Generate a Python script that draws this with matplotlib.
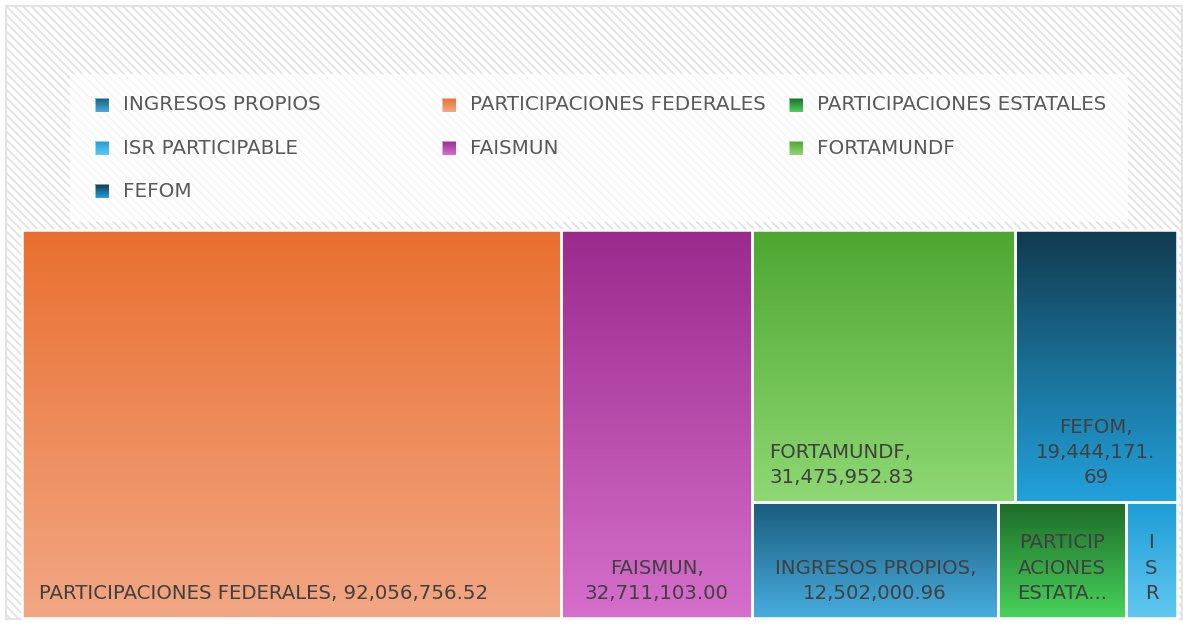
import numpy as np
import matplotlib
matplotlib.use("Agg")
import matplotlib.pyplot as plt
from matplotlib.patches import Rectangle
from matplotlib.colors import LinearSegmentedColormap

# data (legend order)
categories = ["INGRESOS PROPIOS", "PARTICIPACIONES FEDERALES", "PARTICIPACIONES ESTATALES",
              "ISR PARTICIPABLE", "FAISMUN", "FORTAMUNDF", "FEFOM"]
values = [12502000.96, 92056756.52, 6505000.00, 2600000.00, 32711103.00, 31475952.83, 19444171.69]

# labels shown inside the cells (wrapped like the original)
cell_labels = [
    "INGRESOS PROPIOS,\n12,502,000.96",
    "PARTICIPACIONES FEDERALES, 92,056,756.52",
    "PARTICIP\nACIONES\nESTATA...",
    "I\nS\nR",
    "FAISMUN,\n32,711,103.00",
    "FORTAMUNDF,\n31,475,952.83",
    "FEFOM,\n19,444,171.\n69",
]
label_align = ["center", "left", "center", "center", "center", "left", "center"]

# gradient colours (top, bottom)
top_colors = ["#1A5C7D", "#E96F2F", "#1D6B28", "#1C9CD6", "#9B2A8D", "#4DA630", "#113A4E"]
bottom_colors = ["#48ADDE", "#F2A784", "#48D35B", "#62C8F1", "#D56FCB", "#8ED873", "#22A2DC"]

# treemap nesting: columns, then rows inside the last column
layout_tree = [1, 4, [[5, 6], [0, 2, 3]]]

W, H, DPI = 1183, 627, 100
fig = plt.figure(figsize=(W / DPI, H / DPI), dpi=DPI)
plt.rcParams['hatch.linewidth'] = 1.4

def fx(x):
    return x / W

def fy(y):
    return 1 - y / H

# hatched chart background with light border
fig.add_artist(Rectangle((fx(6), fy(619)), fx(1182) - fx(6), fy(6) - fy(619),
                         transform=fig.transFigure, facecolor='white',
                         edgecolor='#E3E3E3', hatch='\\\\\\\\', linewidth=1.5, zorder=-2))
# lighter legend panel
fig.add_artist(Rectangle((fx(70), fy(222)), fx(1128) - fx(70), fy(74) - fy(222),
                         transform=fig.transFigure, facecolor='white', alpha=0.7,
                         edgecolor='none', zorder=-1))

grad = np.linspace(0, 1, 256).reshape(-1, 1)

def grad_fill(ax, x0, y0, w, h, c_top, c_bot, z=1):
    cmap = LinearSegmentedColormap.from_list('g', [c_top, c_bot])
    ax.imshow(grad, cmap=cmap, extent=(x0, x0 + w, y0 + h, y0), origin='upper',
              aspect='auto', interpolation='bilinear', zorder=z)

# legend
lax = fig.add_axes([fx(70), fy(222), fx(1128) - fx(70), fy(74) - fy(222)])
for i, name in enumerate(categories):
    col, row = i % 3, i // 3
    x = 95 + col * 347
    y = 105 + row * 43
    grad_fill(lax, x, y - 7, 14, 14, top_colors[i], bottom_colors[i])
    lax.add_patch(Rectangle((x, y - 7), 14, 14, fill=False, edgecolor='#FFFFFF',
                            linewidth=0.6, alpha=0.6, zorder=2))
    lax.text(x + 28, y, name, va='center', ha='left', fontsize=14.3,
             color='#595959')
lax.set_xlim(70, 1128)
lax.set_ylim(222, 74)
lax.axis('off')

# treemap
ax = fig.add_axes([fx(22), fy(618), fx(1177) - fx(22), fy(230) - fy(618)])

def node_value(node):
    if isinstance(node, list):
        return sum(node_value(n) for n in node)
    return values[node]

rects = {}

def split(node, x, y, w, h, horizontal):
    total = node_value(node)
    for child in node:
        frac = node_value(child) / total
        if horizontal:
            cw, ch = w * frac, h
        else:
            cw, ch = w, h * frac
        if isinstance(child, list):
            split(child, x, y, cw, ch, not horizontal)
        else:
            rects[child] = (x, y, cw, ch)
        if horizontal:
            x += cw
        else:
            y += ch

split(layout_tree, 0, 0, 1, 1, True)

for i, (x0, y0, w, h) in rects.items():
    grad_fill(ax, x0, y0, w, h, top_colors[i], bottom_colors[i])
    ax.add_patch(Rectangle((x0, y0), w, h, fill=False, edgecolor='white',
                           linewidth=1.8, zorder=2, clip_on=False))
    if label_align[i] == 'left':
        xy, off = (x0, y0 + h), (17, 15)
    else:
        xy, off = (x0 + w / 2, y0 + h), (0, 15)
    ax.annotate(cell_labels[i], xy=xy, xytext=off, textcoords='offset pixels',
                ha=label_align[i], va='bottom', multialignment=label_align[i],
                fontsize=14.2, color='#404040', linespacing=1.42, zorder=3)

ax.set_xlim(0, 1)
ax.set_ylim(1, 0)
ax.axis('off')

fig.savefig("out.png", dpi=DPI)
